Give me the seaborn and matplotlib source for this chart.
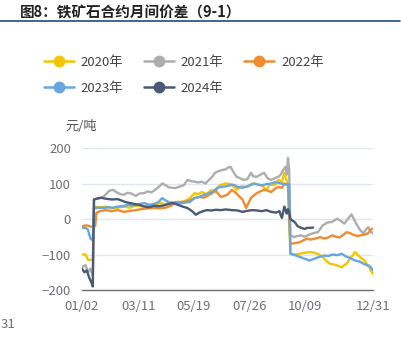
import numpy as np
import pandas as pd
import matplotlib
matplotlib.use("Agg")
import matplotlib.pyplot as plt
from matplotlib.lines import Line2D
import seaborn as sns

# ---- data (x = trading-day index from 01/02, y = 元/吨) ----
d2020 = [0,3,5,9,10,15,20,25,30,35,40,45,50,55,60,65,70,75,80,85,90,94,97,100,104,108,111,115,120,125,129,133,138,142,146,150,154,157,161,164,167,169,172,
         174,178,182,186,190,194,198,201,204,207,210,213,217,219,221,223,225,228,230,232,234,236,238,240,241,243]
v2020 = [-100,-100,-115,-115,35,33,35,30,32,35,32,38,35,40,38,45,42,48,45,50,58,73,70,76,70,82,75,95,100,98,82,92,90,100,97,95,82,98,95,110,105,130,95,
         -98,-100,-98,-95,-93,-95,-100,-107,-118,-126,-128,-131,-136,-130,-126,-115,-107,-93,-100,-107,-112,-117,-128,-136,-145,-155]

d2021 = [0,3,5,7,9,10,14,17,20,23,26,29,32,35,38,41,45,48,52,55,58,61,64,67,70,72,75,78,82,85,88,91,94,97,100,103,106,109,111,114,117,120,122,124,126,129,132,135,138,141,143,146,149,152,155,158,161,164,166,168,170,171,172,173,
         174,177,180,183,186,189,193,197,201,205,209,213,216,219,222,225,227,229,232,235,237,239,241,243]
v2021 = [-135,-130,-150,-140,-160,55,58,60,70,80,82,75,70,68,74,72,65,72,73,78,75,82,90,100,95,90,88,87,92,95,110,107,105,103,105,100,110,120,130,135,138,140,145,147,135,119,115,110,112,130,120,119,125,130,115,110,115,119,125,138,147,125,172,140,
         -45,-51,-48,-46,-50,-45,-40,-37,-18,-10,-8,1,-5,-13,0,13,0,-13,-30,-41,-30,-23,-35,-41]

d2022 = [0,4,8,11,12,15,20,25,30,35,40,45,50,55,60,65,70,75,78,85,90,94,98,102,106,109,111,114,116,119,122,125,128,131,134,136,137,139,141,144,146,149,152,155,158,161,164,167,169,172,
         174,178,182,185,188,191,195,199,202,205,209,212,215,218,221,224,227,230,233,236,239,241,243]
v2022 = [-20,-18,-22,-20,17,22,25,22,25,20,23,25,28,30,31,30,32,38,48,48,52,59,62,60,68,73,82,70,62,65,70,82,75,65,55,40,31,45,59,68,73,78,82,80,76,85,90,88,100,95,
         -70,-68,-65,-60,-55,-58,-55,-51,-55,-53,-46,-50,-52,-45,-37,-40,-45,-48,-46,-44,-40,-30,-27]

d2023 = [0,3,5,7,9,10,14,18,22,26,30,34,38,42,46,48,52,56,60,64,67,70,74,78,82,86,90,94,98,102,106,110,113,116,120,124,127,130,134,138,141,144,147,150,154,158,162,166,170,173,
         174,178,182,186,190,194,198,202,206,209,213,217,220,224,228,232,235,238,240,242,243]
v2023 = [-25,-25,-30,-55,-60,30,32,31,33,32,35,36,40,38,40,42,45,40,42,48,59,52,45,45,44,46,48,59,62,68,72,78,88,90,92,95,96,90,88,92,96,100,97,95,98,100,104,100,98,97,
         -98,-102,-107,-112,-117,-112,-107,-103,-104,-100,-102,-98,-105,-110,-117,-120,-126,-130,-132,-140,-145]

d2024 = [0,2,4,6,8,9,10,13,16,20,25,30,33,36,40,44,48,52,56,60,64,68,72,76,80,84,88,92,95,98,101,104,108,112,116,120,125,130,134,138,142,146,150,154,158,162,165,166,167,168,169,170,171,172,173,
         174,176,178,180,183,186,188,190,193]
v2024 = [-140,-150,-145,-165,-180,-190,55,58,60,57,55,56,52,48,45,42,40,35,33,37,36,38,42,45,40,35,31,22,12,18,22,25,24,26,25,27,25,24,20,23,25,24,22,25,20,18,22,10,3,20,35,25,15,28,20,
         0,-5,-10,-20,-25,-28,-25,-25,-24]

years = ["2020年", "2021年", "2022年", "2023年", "2024年"]
colors = ["#f4c600", "#adadad", "#f08b30", "#67a6df", "#4a5a76"]
tick_pos = [0, 47, 93, 140, 186, 231, 243]
tick_lab = ["01/02", "03/11", "05/19", "07/26", "10/09", "", "12/31"]

frames = []
for y, d, v in zip(years, [d2020, d2021, d2022, d2023, d2024], [v2020, v2021, v2022, v2023, v2024]):
    frames.append(pd.DataFrame({"day": d, "value": v, "year": y}))
df = pd.concat(frames, ignore_index=True)

sns.set_style("white")
plt.rcParams["font.family"] = ["Noto Sans CJK SC", "DejaVu Sans"]

fig = plt.figure(figsize=(4.02, 3.5), dpi=100)
ax = fig.add_axes([82/402, 1-290/350, (373-82)/402, (290-148)/350])

sns.lineplot(data=df, x="day", y="value", hue="year", hue_order=years,
             palette=dict(zip(years, colors)), linewidth=1.7, legend=False,
             estimator=None, ax=ax)

ax.set_xlim(0, 243)
ax.set_ylim(-200, 200)
ax.set_yticks([-200, -100, 0, 100, 200])
ax.set_xticks(tick_pos)
ax.set_xticklabels(tick_lab)
ax.set_xlabel("")
ax.set_ylabel("")
for s in ["top", "right", "left"]:
    ax.spines[s].set_visible(False)
ax.spines["bottom"].set_color("#6e7079")
ax.spines["bottom"].set_linewidth(1.0)
ax.yaxis.grid(True, color="#e0e6f1", linewidth=1.0)
ax.set_axisbelow(True)
ax.tick_params(axis="x", colors="#6e7079", labelcolor="#6e7079", labelsize=9.5,
               length=5, width=1.0, direction="out", pad=2)
ax.tick_params(axis="y", labelcolor="#6e7079", labelsize=9.5, length=0, pad=8)

# y unit label
fig.text(65/402, 1-126/350, "元/吨", fontsize=9.5, color="#555555", ha="left", va="center")

# title and rule
fig.text(20/402, 1-12/350, "图8：铁矿石合约月间价差（9-1）", fontsize=10.5, fontweight="bold",
         color="#222222", ha="left", va="center")
fig.add_artist(Line2D([0, 400/402], [1-21/350, 1-21/350], color="#1f4e79", linewidth=1.2))

# legend
handles = [Line2D([0], [0], color=c, linewidth=1.8, marker="o", markersize=7.5,
                  markerfacecolor=c, markeredgecolor=c) for c in colors]
order = [0, 3, 1, 4, 2]
fig.legend([handles[i] for i in order], [years[i] for i in order], ncol=3,
           loc="upper left", bbox_to_anchor=(44/402, 1-56/350), frameon=False,
           fontsize=9.5, labelcolor="#444444", handlelength=2.3, handletextpad=0.5,
           columnspacing=1.55, labelspacing=0.98, borderaxespad=0, borderpad=0)

fig.text(1/402, 1-325/350, "31", fontsize=9.5, color="#6e7079", ha="left", va="center")

fig.savefig("out.png", dpi=100)
